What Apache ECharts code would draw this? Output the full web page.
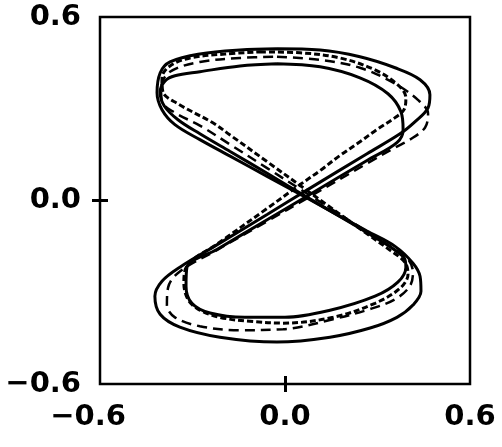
<!DOCTYPE html>
<html>
<head>
<meta charset="utf-8">
<script src="https://cdn.jsdelivr.net/npm/echarts@6/dist/echarts.min.js"></script>
<style>
  html, body { margin: 0; padding: 0; background: #fff; }
  #chart { width: 502px; height: 447px; }
</style>
</head>
<body>
<div id="chart"></div>
<script>
// Tick positions and their printed labels (both axes share them)
const tickValues = [-0.6, 0.0, 0.6];
const tickLabels = ['\u22120.6', '0.0', '0.6'];

// Closed trajectories in the (x, y) phase plane, each starting on the top edge
const loopOuterSolid = [
  [-0.026, 0.496], [0.114, 0.492], [0.243, 0.470], [0.357, 0.434], [0.438, 0.395],
  [0.470, 0.346], [0.464, 0.303], [0.422, 0.258], [0.373, 0.218], [0.266, 0.153],
  [0.071, 0.034], [-0.058, -0.046], [-0.221, -0.145], [-0.341, -0.218], [-0.399, -0.264],
  [-0.422, -0.313], [-0.405, -0.372], [-0.341, -0.414], [-0.211, -0.447], [-0.026, -0.463],
  [0.146, -0.447], [0.276, -0.417], [0.363, -0.382], [0.415, -0.342], [0.441, -0.297],
  [0.438, -0.248], [0.415, -0.205], [0.357, -0.150], [0.266, -0.100], [0.071, 0.008],
  [-0.058, 0.079], [-0.178, 0.145], [-0.276, 0.199], [-0.357, 0.248], [-0.399, 0.297],
  [-0.415, 0.352], [-0.405, 0.417], [-0.373, 0.453], [-0.276, 0.479], [-0.146, 0.492],
  [-0.026, 0.496]
];

const loopInnerSolid = [
  [-0.026, 0.447], [0.114, 0.437], [0.243, 0.401], [0.334, 0.349], [0.376, 0.290],
  [0.383, 0.232], [0.363, 0.189], [0.266, 0.131], [0.071, 0.014], [-0.058, -0.063],
  [-0.221, -0.160], [-0.318, -0.218], [-0.321, -0.280], [-0.302, -0.336], [-0.243, -0.368],
  [-0.130, -0.382], [0.000, -0.382], [0.146, -0.359], [0.292, -0.313], [0.366, -0.267],
  [0.392, -0.218], [0.383, -0.183], [0.266, -0.105], [0.071, 0.011], [-0.058, 0.089],
  [-0.178, 0.160], [-0.276, 0.218], [-0.347, 0.264], [-0.392, 0.310], [-0.405, 0.355],
  [-0.389, 0.391], [-0.357, 0.408], [-0.276, 0.421], [-0.146, 0.440], [-0.026, 0.447]
];

const loopLongDash = [
  [-0.026, 0.470], [0.114, 0.460], [0.243, 0.434], [0.357, 0.382], [0.431, 0.329],
  [0.464, 0.284], [0.454, 0.238], [0.405, 0.199], [0.357, 0.173], [0.266, 0.121],
  [0.071, 0.007], [-0.058, -0.068], [-0.221, -0.162], [-0.341, -0.232], [-0.379, -0.284],
  [-0.383, -0.342], [-0.357, -0.382], [-0.276, -0.411], [-0.146, -0.424], [-0.006, -0.421],
  [0.156, -0.388], [0.276, -0.355], [0.357, -0.323], [0.405, -0.280], [0.415, -0.235],
  [0.399, -0.192], [0.357, -0.160], [0.266, -0.102], [0.071, 0.023], [-0.058, 0.106],
  [-0.178, 0.183], [-0.276, 0.245], [-0.357, 0.287], [-0.399, 0.323], [-0.402, 0.368],
  [-0.373, 0.421], [-0.276, 0.453], [-0.146, 0.466], [-0.026, 0.470]
];

const loopShortDash = [
  [-0.081, 0.486], [0.049, 0.483], [0.178, 0.466], [0.292, 0.427], [0.366, 0.378],
  [0.392, 0.336], [0.386, 0.297], [0.357, 0.271], [0.298, 0.232], [0.243, 0.192],
  [0.178, 0.147], [0.114, 0.098], [0.049, 0.052], [-0.058, -0.026], [-0.221, -0.143],
  [-0.315, -0.209], [-0.328, -0.271], [-0.315, -0.323], [-0.282, -0.355], [-0.211, -0.382],
  [-0.114, -0.395], [-0.006, -0.401], [0.156, -0.382], [0.292, -0.336], [0.373, -0.287],
  [0.399, -0.241], [0.389, -0.202], [0.341, -0.163], [0.266, -0.109], [0.071, 0.033],
  [-0.058, 0.127], [-0.178, 0.214], [-0.234, 0.254], [-0.347, 0.316], [-0.396, 0.355],
  [-0.399, 0.401], [-0.373, 0.440], [-0.308, 0.466], [-0.195, 0.479], [-0.081, 0.486]
];

const FONT = 'DejaVu Sans';
const INK = '#000';

function labelFor(v) {
  const i = tickValues.findIndex(t => Math.abs(t - v) < 1e-9);
  return i >= 0 ? tickLabels[i] : '';
}

const labelBase = {
  color: INK, fontFamily: FONT, fontWeight: 'bold', fontSize: 29
};

// One axis draws the outward half of the centre tick plus labels,
// its twin draws the inward half, so the tick crosses the frame.
function makeAxis(dim, withLabels, inside) {
  return {
    type: 'value',
    min: -0.6, max: 0.6, interval: 0.6,
    position: dim === 'x' ? 'bottom' : 'left',
    axisLine: { show: false, onZero: false },
    splitLine: { show: false },
    axisTick: {
      show: true, inside: inside, length: 8,
      customValues: [0],
      lineStyle: { color: INK, width: 3 }
    },
    axisLabel: withLabels ? Object.assign({
      show: true,
      customValues: tickValues,
      margin: 19,
      formatter: function (v) {
        const s = labelFor(v);
        if (dim === 'x' && v < 0) return '{neg|' + s + '}';
        return s;
      },
      rich: {
        neg: Object.assign({ padding: [0, 24, 0, 0] }, labelBase)
      }
    }, labelBase) : { show: false }
  };
}

function loopSeries(name, data, width, dash) {
  return {
    name: name,
    type: 'line',
    xAxisIndex: 0, yAxisIndex: 0,
    data: data,
    smooth: 0.35,
    showSymbol: false,
    symbol: 'none',
    lineStyle: { color: INK, width: width, type: dash },
    emphasis: { disabled: true },
    silent: true
  };
}

const chart = echarts.init(document.getElementById('chart'), null, { renderer: 'canvas' });
chart.setOption({
  animation: false,
  backgroundColor: '#fff',
  grid: {
    left: 100, right: 32, top: 17, bottom: 63,
    show: true, borderColor: INK, borderWidth: 2.5, backgroundColor: 'transparent'
  },
  xAxis: [makeAxis('x', true, false), makeAxis('x', false, true)],
  yAxis: [makeAxis('y', true, false), makeAxis('y', false, true)],
  series: [
    loopSeries('outer', loopOuterSolid, 3, 'solid'),
    loopSeries('inner', loopInnerSolid, 3, 'solid'),
    loopSeries('longDash', loopLongDash, 2.5, [10, 6]),
    loopSeries('shortDash', loopShortDash, 3, [6, 3])
  ]
});
</script>
</body>
</html>
